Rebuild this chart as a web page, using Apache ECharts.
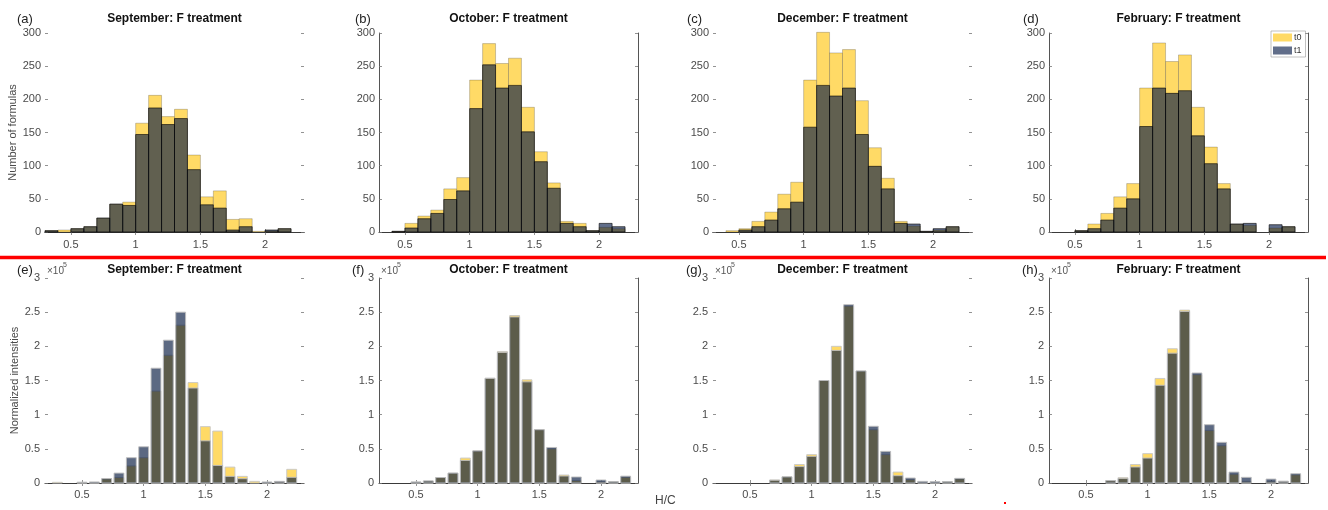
<!DOCTYPE html>
<html lang="en">
<head>
<meta charset="utf-8" />
<title>H/C histograms</title>
<script src="https://cdn.jsdelivr.net/npm/echarts@6/dist/echarts.min.js"></script>
<style>
  html, body { margin: 0; padding: 0; background: #fff; }
  #main { width: 1328px; height: 510px; }
</style>
</head>
<body>
<div id="main"></div>
<script>
// ---- data ----
var months = ['September', 'October', 'December', 'February'];
var tagsTop = ['(a)', '(b)', '(c)', '(d)'];
var tagsBottom = ['(e)', '(f)', '(g)', '(h)'];
var xTicks = [0.5, 1, 1.5, 2];

// top row: histogram bins (left edges, width 0.1)
var binStarts = [0.3, 0.4, 0.5, 0.6, 0.7, 0.8, 0.9, 1.0, 1.1, 1.2, 1.3, 1.4, 1.5, 1.6, 1.7, 1.8, 1.9, 2.0, 2.1];
var countSepT0 = [2, 3, 5, 8, 21, 42, 45, 164, 206, 174, 185, 116, 53, 62, 19, 20, 1, 2, 5];
var countSepT1 = [2, 0, 5, 8, 21, 42, 40, 147, 187, 162, 171, 94, 41, 36, 3, 8, 0, 3, 5];
var countOctT0 = [0, 1, 13, 24, 33, 65, 82, 229, 284, 254, 262, 188, 121, 74, 16, 13, 2, 7, 5];
var countOctT1 = [0, 1, 6, 20, 28, 49, 62, 186, 252, 217, 221, 151, 106, 66, 13, 8, 2, 13, 8];
var countDecT0 = [0, 2, 5, 16, 30, 57, 75, 229, 301, 270, 275, 198, 127, 81, 16, 9, 1, 3, 8];
var countDecT1 = [0, 0, 3, 8, 18, 35, 45, 158, 221, 205, 217, 147, 99, 65, 13, 12, 1, 5, 8];
var countFebT0 = [0, 0, 2, 12, 28, 53, 73, 217, 285, 257, 267, 188, 128, 73, 12, 10, 0, 6, 8];
var countFebT1 = [0, 0, 2, 5, 18, 36, 50, 159, 217, 209, 213, 145, 103, 65, 12, 13, 0, 11, 8];

// bottom row: bar centres, normalized intensities in units of 1e5
var barCenters = [0.3, 0.4, 0.5, 0.6, 0.7, 0.8, 0.9, 1.0, 1.1, 1.2, 1.3, 1.4, 1.5, 1.6, 1.7, 1.8, 1.9, 2.0, 2.1, 2.2];
var intSepT0 = [0.01, 0, 0.01, 0.01, 0.06, 0.08, 0.25, 0.37, 1.345, 1.87, 2.31, 1.47, 0.825, 0.76, 0.233, 0.097, 0.024, 0.01, 0.02, 0.2];
var intSepT1 = [0, 0, 0.01, 0.015, 0.065, 0.145, 0.37, 0.53, 1.68, 2.09, 2.5, 1.39, 0.617, 0.257, 0.097, 0.063, 0, 0.015, 0.024, 0.083];
var intOctT0 = [0, 0, 0.015, 0.03, 0.08, 0.145, 0.365, 0.47, 1.535, 1.925, 2.45, 1.51, 0.78, 0.5, 0.117, 0.035, 0, 0.02, 0.02, 0.085];
var intOctT1 = [0, 0, 0.015, 0.03, 0.08, 0.145, 0.33, 0.47, 1.53, 1.91, 2.43, 1.48, 0.78, 0.52, 0.102, 0.088, 0, 0.044, 0.02, 0.1];
var intDecT0 = [0, 0, 0, 0, 0.045, 0.09, 0.27, 0.415, 1.5, 2.0, 2.59, 1.64, 0.78, 0.415, 0.16, 0.049, 0.01, 0.01, 0.02, 0.06];
var intDecT1 = [0, 0, 0, 0, 0.04, 0.09, 0.24, 0.39, 1.5, 1.94, 2.61, 1.64, 0.83, 0.463, 0.107, 0.073, 0.024, 0.02, 0.02, 0.068];
var intFebT0 = [0, 0, 0, 0, 0.034, 0.078, 0.27, 0.43, 1.53, 1.965, 2.53, 1.585, 0.77, 0.546, 0.13, 0.024, 0, 0.025, 0.025, 0.12];
var intFebT1 = [0, 0, 0, 0, 0.034, 0.065, 0.234, 0.365, 1.43, 1.9, 2.51, 1.61, 0.853, 0.595, 0.16, 0.083, 0, 0.058, 0.025, 0.136];

var countsT0 = [countSepT0, countOctT0, countDecT0, countFebT0];
var countsT1 = [countSepT1, countOctT1, countDecT1, countFebT1];
var intsT0 = [intSepT0, intOctT0, intDecT0, intFebT0];
var intsT1 = [intSepT1, intOctT1, intDecT1, intFebT1];

// ---- layout ----
var FONT = '"Liberation Sans", Arial, Helvetica, sans-serif';
var colT0 = '#FFDA66';
var colT1 = 'rgba(0,21,66,0.62)';
var colT1Bar = 'rgba(0,20,60,0.64)';
var gridLeft = [45, 379, 713, 1049];
var gridW = 259;
var topRow = { top: 33, height: 199 };
var botRow = { top: 278, height: 205 };
// which box lines survived in the reference picture
var sideLines = [false, true, false, true];

var chart = echarts.init(document.getElementById('main'));

function histRender(leftOff, rightOff, fill, stroke, lw) {
  return function (params, api) {
    var x = api.value(0), v = api.value(1);
    if (!(v > 0)) return null;
    var a = api.coord([x - leftOff, 0]);
    var b = api.coord([x + rightOff, v]);
    return {
      type: 'rect',
      shape: { x: a[0], y: b[1], width: b[0] - a[0], height: a[1] - b[1] },
      style: { fill: fill, stroke: stroke, lineWidth: lw }
    };
  };
}

function pairs(xs, ys) {
  return xs.map(function (x, i) { return [x, ys[i]]; });
}

var grids = [], xAxes = [], yAxes = [], series = [], titles = [], graphics = [];

function addPanel(row, col) {
  var gi = grids.length;
  var isTop = row === 0;
  var box = isTop ? topRow : botRow;
  grids.push({ left: gridLeft[col], top: box.top, width: gridW, height: box.height });

  var xmin = isTop ? 0.3 : 0.2;
  var tick = { show: true, inside: true, length: 3, customValues: xTicks, lineStyle: { color: '#777', width: 0.8 } };
  xAxes.push({
    gridIndex: gi, type: 'value', min: xmin, max: 2.3,
    axisLine: { show: true, lineStyle: { color: '#3a3a3a', width: 1 } },
    axisTick: tick,
    axisLabel: { customValues: xTicks, margin: isTop ? 7 : 6, color: '#4a4a4a', fontSize: 11, fontFamily: FONT },
    splitLine: { show: false }
  });
  xAxes.push({
    gridIndex: gi, type: 'value', position: 'top', min: xmin, max: 2.3,
    axisLine: { show: isTop && !sideLines[col], lineStyle: { color: '#3a3a3a', width: 1 } },
    axisTick: tick,
    axisLabel: { show: false },
    splitLine: { show: false }
  });

  var yTick = { show: true, inside: true, length: 3, lineStyle: { color: '#777', width: 0.8 } };
  var yLeft = {
    gridIndex: gi, type: 'value', min: 0, max: isTop ? 300 : 3, interval: isTop ? 50 : 0.5,
    axisLine: { show: sideLines[col], lineStyle: { color: '#555', width: 1 } },
    axisTick: yTick,
    axisLabel: { margin: isTop ? 4 : 5, color: '#4a4a4a', fontSize: 11, fontFamily: FONT },
    splitLine: { show: false }
  };
  if (col === 0) {
    yLeft.name = isTop ? 'Number of formulas' : 'Normalized intensities';
    yLeft.nameLocation = 'middle';
    yLeft.nameGap = isTop ? 24 : 21;
    yLeft.nameTextStyle = { color: '#4a4a4a', fontSize: 11, fontFamily: FONT };
  }
  yAxes.push(yLeft);
  yAxes.push({
    gridIndex: gi, type: 'value', position: 'right', min: 0, max: isTop ? 300 : 3, interval: isTop ? 50 : 0.5,
    axisLine: { show: sideLines[col], lineStyle: { color: '#555', width: 1 } },
    axisTick: yTick,
    axisLabel: { show: false },
    splitLine: { show: false }
  });

  var xIdx = gi * 2, yIdx = gi * 2;
  var d0, d1, r0, r1;
  if (isTop) {
    d0 = pairs(binStarts, countsT0[col]);
    d1 = pairs(binStarts, countsT1[col]);
    r0 = histRender(0, 0.1, colT0, 'rgba(40,40,40,0.35)', 0.7);
    r1 = histRender(0, 0.1, colT1, 'rgba(0,0,0,0.75)', 0.8);
  } else {
    d0 = pairs(barCenters, intsT0[col]);
    d1 = pairs(barCenters, intsT1[col]);
    r0 = histRender(0.04, 0.04, colT0, 'rgba(200,200,200,0.9)', 1);
    r1 = histRender(0.04, 0.04, colT1Bar, 'rgba(190,190,190,0.9)', 1);
  }
  series.push({
    name: 't0', type: 'custom', coordinateSystem: 'cartesian2d',
    xAxisIndex: xIdx, yAxisIndex: yIdx, itemStyle: { color: colT0 },
    encode: { x: 0, y: 1 }, renderItem: r0, data: d0, z: 2, silent: true
  });
  series.push({
    name: 't1', type: 'custom', coordinateSystem: 'cartesian2d',
    xAxisIndex: xIdx, yAxisIndex: yIdx, itemStyle: { color: colT1 },
    encode: { x: 0, y: 1 }, renderItem: r1, data: d1, z: 3, silent: true
  });

  titles.push({
    text: months[col] + ': F treatment',
    left: gridLeft[col] + gridW / 2, top: isTop ? 13 : 264, textAlign: 'center', padding: 0,
    textStyle: { fontSize: 12, fontWeight: 'bold', color: '#111', fontFamily: FONT }
  });
}

for (var r = 0; r < 2; r++) {
  for (var c = 0; c < 4; c++) addPanel(r, c);
}

// panel tags
var tagXTop = [17, 355, 687, 1023];
var tagXBot = [17, 352, 686, 1022];
for (var k = 0; k < 4; k++) {
  graphics.push({ type: 'text', left: tagXTop[k], top: 13, style: { text: tagsTop[k], fontSize: 13, fill: '#222', fontFamily: FONT } });
  graphics.push({ type: 'text', left: tagXBot[k], top: 264, style: { text: tagsBottom[k], fontSize: 13, fill: '#222', fontFamily: FONT } });
  // x10^5 multiplier
  graphics.push({ type: 'text', left: gridLeft[k] + 2, top: 266, style: { text: '\u00d710', fontSize: 10, fill: '#555', fontFamily: FONT } });
  graphics.push({ type: 'text', left: gridLeft[k] + 18, top: 262, style: { text: '5', fontSize: 7, fill: '#555', fontFamily: FONT } });
}
// red divider
graphics.push({ type: 'line', shape: { x1: 0, y1: 257.5, x2: 1326, y2: 257.5 }, style: { stroke: '#ff0000', lineWidth: 3.5 } });
graphics.push({ type: 'rect', shape: { x: 1004, y: 502, width: 2, height: 2 }, style: { fill: '#ff0000' } });
// shared x label
graphics.push({ type: 'text', left: 655, top: 495, style: { text: 'H/C', fontSize: 12, fill: '#444', fontFamily: FONT } });

var option = {
  animation: false,
  backgroundColor: '#fff',
  title: titles,
  grid: grids,
  xAxis: xAxes,
  yAxis: yAxes,
  legend: {
    data: ['t0', 't1'],
    orient: 'vertical',
    left: 1271, top: 31,
    itemWidth: 19, itemHeight: 8, itemGap: 4,
    icon: 'rect',
    selectedMode: false,
    padding: [2, 4, 2, 2],
    borderColor: '#999', borderWidth: 0.6,
    textStyle: { fontSize: 9, color: '#333', fontFamily: FONT, padding: [0, 0, 0, -3] }
  },
  series: series,
  graphic: graphics
};
chart.setOption(option);
</script>
</body>
</html>
